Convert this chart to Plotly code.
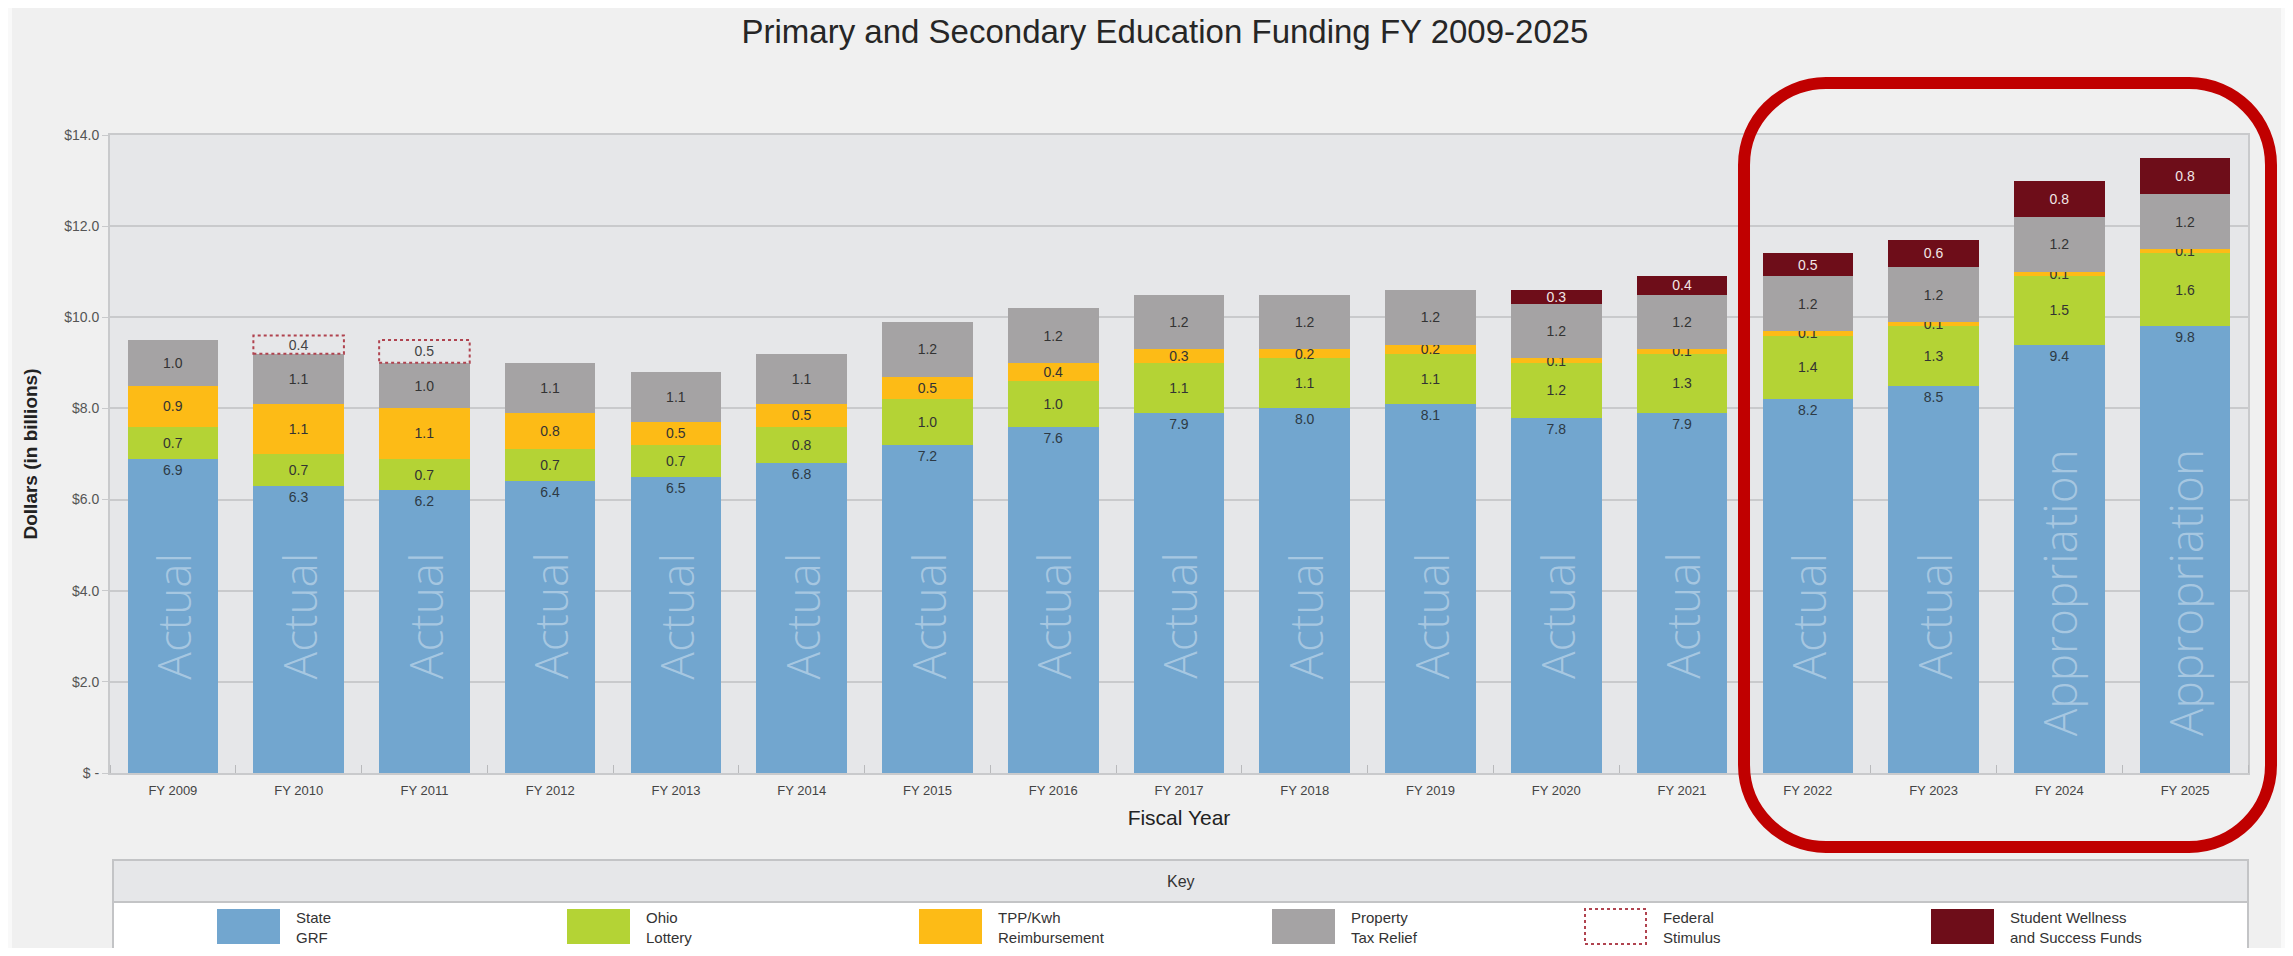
import plotly.graph_objects as go

# ---------------- data ----------------
years = ["FY 2009", "FY 2010", "FY 2011", "FY 2012", "FY 2013", "FY 2014", "FY 2015",
         "FY 2016", "FY 2017", "FY 2018", "FY 2019", "FY 2020", "FY 2021", "FY 2022",
         "FY 2023", "FY 2024", "FY 2025"]
state_grf = [6.9, 6.3, 6.2, 6.4, 6.5, 6.8, 7.2, 7.6, 7.9, 8.0, 8.1, 7.8, 7.9, 8.2, 8.5, 9.4, 9.8]
ohio_lottery = [0.7, 0.7, 0.7, 0.7, 0.7, 0.8, 1.0, 1.0, 1.1, 1.1, 1.1, 1.2, 1.3, 1.4, 1.3, 1.5, 1.6]
tpp_kwh = [0.9, 1.1, 1.1, 0.8, 0.5, 0.5, 0.5, 0.4, 0.3, 0.2, 0.2, 0.1, 0.1, 0.1, 0.1, 0.1, 0.1]
property_tax = [1.0, 1.1, 1.0, 1.1, 1.1, 1.1, 1.2, 1.2, 1.2, 1.2, 1.2, 1.2, 1.2, 1.2, 1.2, 1.2, 1.2]
federal_stimulus = [0, 0.4, 0.5, 0, 0, 0, 0, 0, 0, 0, 0, 0, 0, 0, 0, 0, 0]
student_wellness = [0, 0, 0, 0, 0, 0, 0, 0, 0, 0, 0, 0.3, 0.4, 0.5, 0.6, 0.8, 0.8]
status = ["Actual"] * 15 + ["Appropriation"] * 2

y_tickvals = [0, 2, 4, 6, 8, 10, 12, 14]
y_ticktext = ["$ -", "$2.0", "$4.0", "$6.0", "$8.0", "$10.0", "$12.0", "$14.0"]

legend_labels = ["State<br>GRF", "Ohio<br>Lottery", "TPP/Kwh<br>Reimbursement",
                 "Property<br>Tax Relief", "Federal<br>Stimulus",
                 "Student Wellness<br>and Success Funds"]

# ---------------- style ----------------
C_GRF = "#72a6cf"
C_LOT = "#b4d335"
C_TPP = "#fdbb16"
C_PROP = "#a5a3a4"
C_FED = "#b0434f"
C_SWS = "#6e0d19"
FONT = "Liberation Sans, Arial, sans-serif"
NARROW = "Liberation Sans Narrow, Arial Narrow, Liberation Sans, sans-serif"

OFF = 8                      # page body margin of the html page
W, H = 2293 - 2 * OFF, 956 - 2 * OFF
# plot area in reference (window) pixels
RL, RR, RT, RB = 110, 2248, 135, 773
L, R, T, B = RL - OFF, RR - OFF, RT - OFF, RB - OFF
PW, PH = R - L, B - T
BAR_W = 0.72


def px(x):
    return (x - OFF - L) / PW


def py(y):
    return (B - (y - OFF)) / PH


xs = list(range(len(years)))


def labels(vals):
    return [f"{v:.1f}" if v > 0 else "" for v in vals]


fig = go.Figure()

series = [
    ("State GRF", state_grf, C_GRF, "#2d3a45", "end"),
    ("Ohio Lottery", ohio_lottery, C_LOT, "#333333", "middle"),
    ("TPP/Kwh Reimbursement", tpp_kwh, C_TPP, "#333333", "middle"),
    ("Property Tax Relief", property_tax, C_PROP, "#333333", "middle"),
    ("Federal Stimulus", federal_stimulus, "rgba(0,0,0,0)", "#444444", "middle"),
    ("Student Wellness and Success Funds", student_wellness, C_SWS, "#f2e6e6", "middle"),
]
for name, vals, col, tcol, anchor in series:
    fig.add_trace(go.Bar(
        x=xs, y=vals, name=name, width=BAR_W,
        marker=dict(color=col, line=dict(width=0)),
        text=labels(vals), textposition="inside", insidetextanchor=anchor,
        constraintext="none", textangle=0,
        textfont=dict(family=NARROW, size=14, color=tcol),
        showlegend=False, hoverinfo="skip",
    ))

shapes = []
annotations = []

# dashed outline for federal stimulus segments (from data)
for i, fed in enumerate(federal_stimulus):
    if fed > 0:
        base = state_grf[i] + ohio_lottery[i] + tpp_kwh[i] + property_tax[i]
        shapes.append(dict(type="rect", xref="x", yref="y",
                           x0=i - BAR_W / 2, x1=i + BAR_W / 2, y0=base, y1=base + fed,
                           line=dict(color=C_FED, width=2, dash="dot"),
                           fillcolor="rgba(0,0,0,0)", layer="above"))

# "Actual"/"Appropriation" watermark text in bars
ymid = {"Actual": 3.45, "Appropriation": 3.95}
for i, s in enumerate(status):
    annotations.append(dict(x=i, y=ymid[s], xref="x", yref="y", text=s, textangle=-90,
                            showarrow=False,
                            font=dict(family="Open Sans, Liberation Sans, sans-serif",
                                      size=46, color="rgba(255,255,255,0.38)", weight=300)))

# page side strips
shapes.append(dict(type="rect", xref="paper", yref="paper", x0=px(0), x1=px(12),
                   y0=py(960), y1=py(-5), fillcolor="#f9f9f9", line=dict(width=0), layer="below"))
shapes.append(dict(type="rect", xref="paper", yref="paper", x0=px(2281), x1=px(2300),
                   y0=py(960), y1=py(-5), fillcolor="#f9f9f9", line=dict(width=0), layer="below"))
shapes.append(dict(type="rect", xref="paper", yref="paper", x0=px(0), x1=px(2300),
                   y0=py(4), y1=py(-5), fillcolor="#f7f7f7", line=dict(width=0), layer="below"))

# key box
shapes.append(dict(type="rect", xref="paper", yref="paper", x0=px(113), x1=px(2248),
                   y0=py(902), y1=py(860), fillcolor="#e6e7e9",
                   line=dict(color="#c3c4c6", width=2), layer="below"))
shapes.append(dict(type="rect", xref="paper", yref="paper", x0=px(113), x1=px(2248),
                   y0=py(970), y1=py(902), fillcolor="#ffffff",
                   line=dict(color="#c3c4c6", width=2), layer="below"))
annotations.append(dict(x=px(1181), y=py(881), xref="paper", yref="paper", text="Key",
                        showarrow=False, xanchor="center", yanchor="middle",
                        font=dict(family=FONT, size=16, color="#333333")))

# legend entries
sw_left = [217, 567, 919, 1272, 1584, 1931]
sw_colors = [C_GRF, C_LOT, C_TPP, C_PROP, None, C_SWS]
for xl, col, lab in zip(sw_left, sw_colors, legend_labels):
    if col is None:
        shapes.append(dict(type="rect", xref="paper", yref="paper", x0=px(xl + 1), x1=px(xl + 62),
                           y0=py(944), y1=py(909), fillcolor="rgba(0,0,0,0)",
                           line=dict(color=C_FED, width=2, dash="dot")))
    else:
        shapes.append(dict(type="rect", xref="paper", yref="paper", x0=px(xl), x1=px(xl + 63),
                           y0=py(944), y1=py(909), fillcolor=col, line=dict(width=0)))
    annotations.append(dict(x=px(xl + 77), y=py(927), xref="paper", yref="paper", text=lab,
                            showarrow=False, xanchor="left", yanchor="middle", align="left",
                            font=dict(family=FONT, size=15, color="#333333")))

# red rounded highlight box
x0, x1, y0, y1, r = 1744, 2271, 83, 847, 82
k = 0.5523 * r


def P(x, y):
    return f"{px(x):.5f},{py(y):.5f}"


path = (f"M {P(x0 + r, y0)} L {P(x1 - r, y0)} "
        f"C {P(x1 - r + k, y0)} {P(x1, y0 + r - k)} {P(x1, y0 + r)} "
        f"L {P(x1, y1 - r)} "
        f"C {P(x1, y1 - r + k)} {P(x1 - r + k, y1)} {P(x1 - r, y1)} "
        f"L {P(x0 + r, y1)} "
        f"C {P(x0 + r - k, y1)} {P(x0, y1 - r + k)} {P(x0, y1 - r)} "
        f"L {P(x0, y0 + r)} "
        f"C {P(x0, y0 + r - k)} {P(x0 + r - k, y0)} {P(x0 + r, y0)} Z")
shapes.append(dict(type="path", xref="paper", yref="paper", path=path,
                   line=dict(color="#c00000", width=12), fillcolor="rgba(0,0,0,0)", layer="above"))

fig.update_layout(
    width=W, height=H,
    margin=dict(l=L, r=W - R, t=T, b=H - B, pad=0),
    barmode="stack",
    paper_bgcolor="#f0f0f0",
    plot_bgcolor="#e6e7e9",
    title=dict(text="Primary and Secondary Education Funding FY 2009-2025",
               x=px(1165), xref="paper", xanchor="center", y=1 - (31 - OFF) / H, yanchor="middle",
               font=dict(family=FONT, size=33, color="#262626")),
    xaxis=dict(range=[-0.5, len(years) - 0.5], tickvals=xs, ticktext=years,
               showgrid=False, zeroline=False, ticks="",
               showline=True, linecolor="#c9cacc", linewidth=2, mirror=True,
               tickfont=dict(family=FONT, size=13, color="#444444"), ticklabelstandoff=4,
               minor=dict(ticks="inside", tick0=-0.5, dtick=1, ticklen=8,
                          tickcolor="#b9babc", tickwidth=1, showgrid=False),
               title=dict(text="Fiscal Year", standoff=14,
                          font=dict(family=FONT, size=21, color="#222222"))),
    yaxis=dict(range=[0, 14], tickvals=y_tickvals, ticktext=y_ticktext,
               showgrid=True, gridcolor="#c9cacc", gridwidth=2, zeroline=False,
               showline=True, linecolor="#c9cacc", linewidth=2, mirror=True,
               ticks="outside", ticklen=6, tickcolor="#c9cacc",
               tickfont=dict(family=FONT, size=14, color="#555555"),
               title=dict(text="<b>Dollars (in billions)</b>", standoff=22,
                          font=dict(family=FONT, size=19, color="#222222"))),
    shapes=shapes,
    annotations=annotations,
    font=dict(family=FONT),
)

fig.write_html("out.html")
